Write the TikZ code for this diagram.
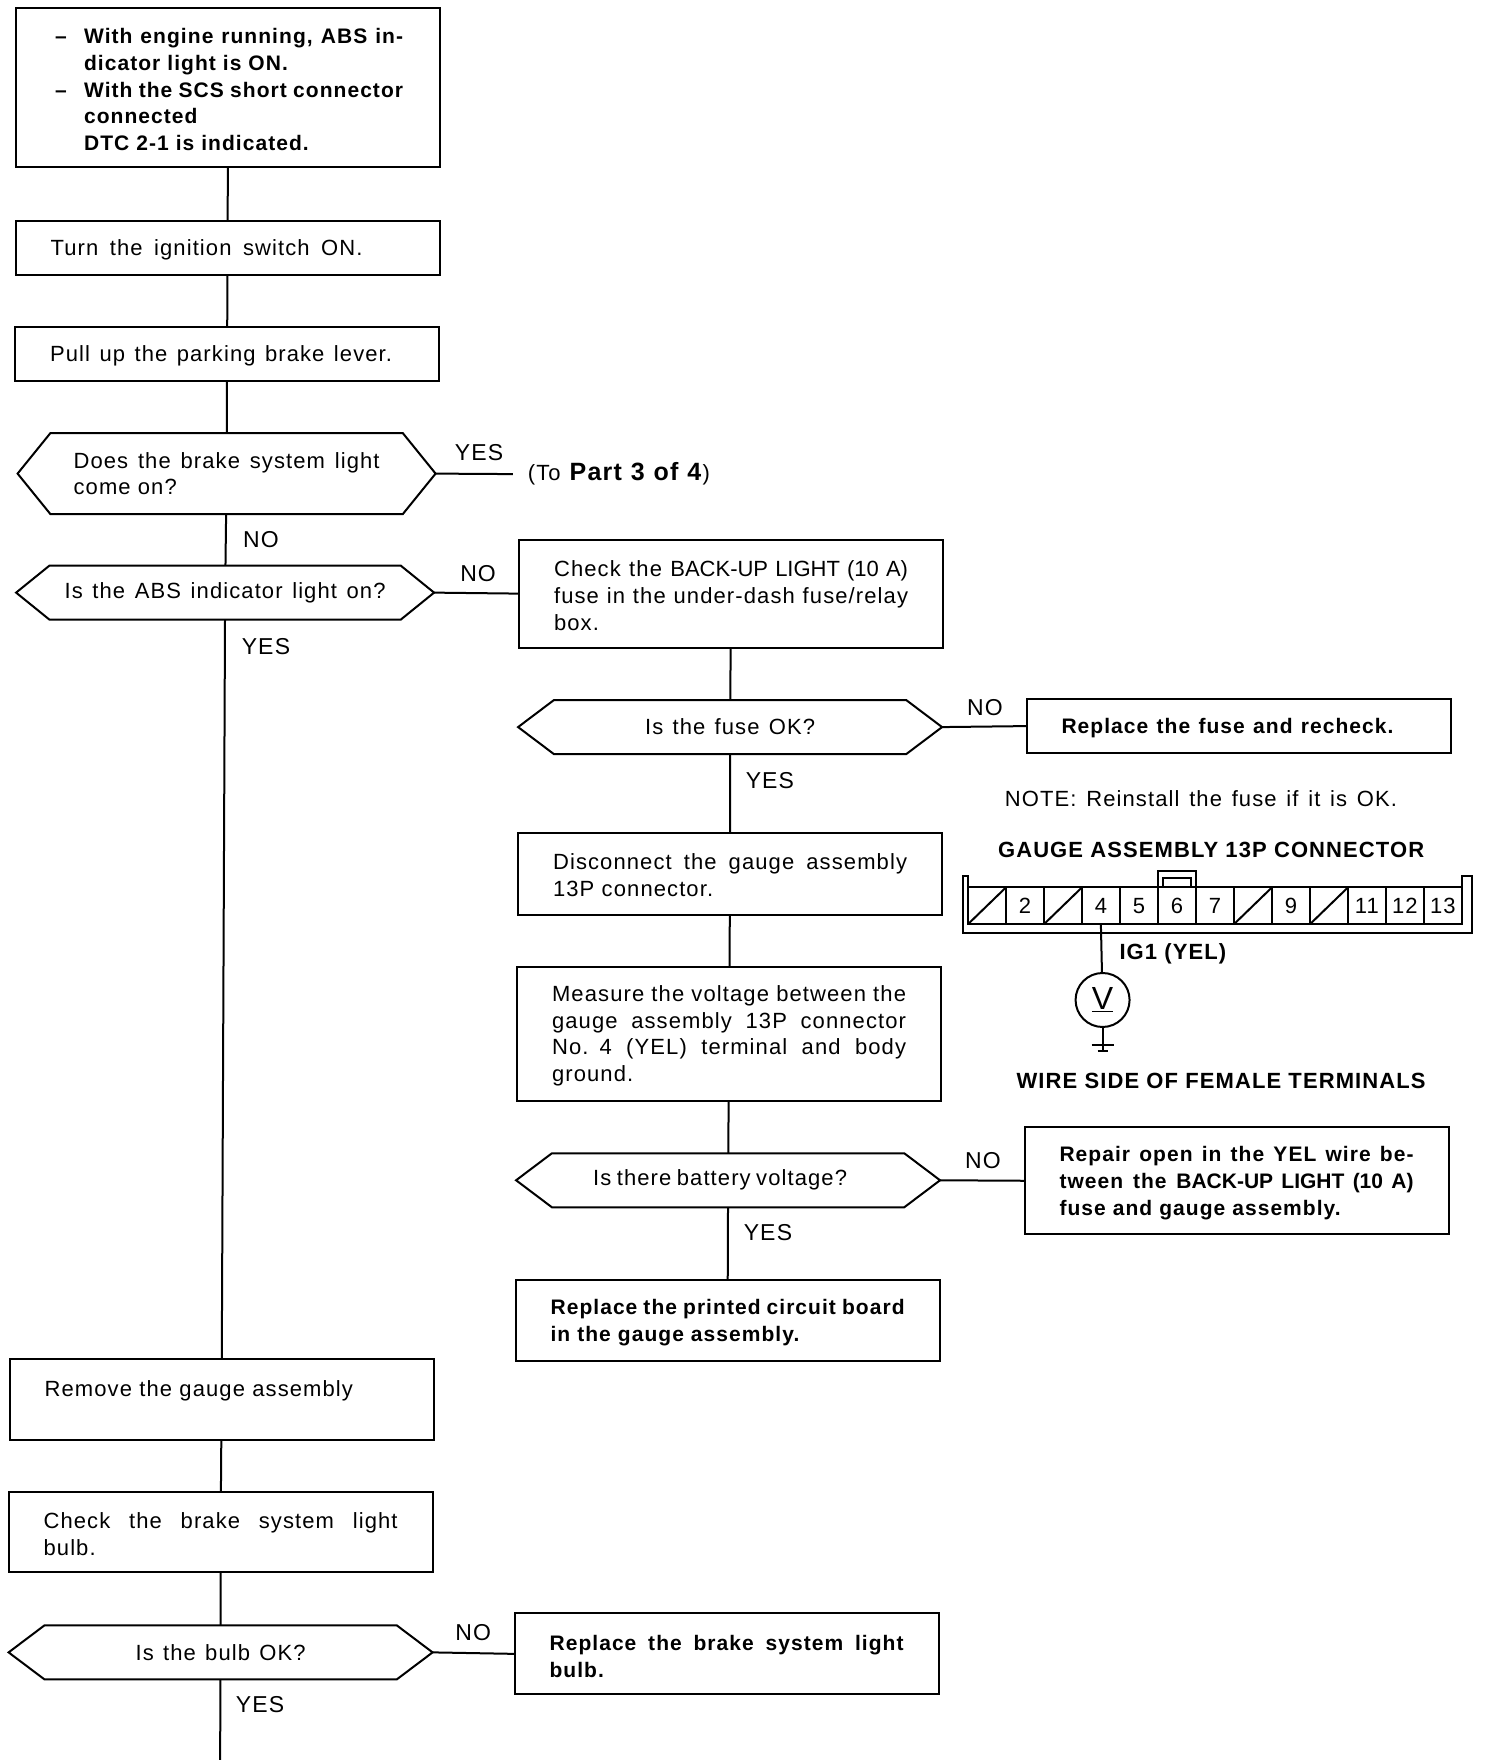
\documentclass[tikz,border=0pt]{standalone}
\usepackage{fontspec}
\setmainfont[LetterSpace=5]{Liberation Sans}
\usetikzlibrary{shapes.symbols,positioning}
\newcommand{\fitline}[2]{\makebox[#1][s]{\spaceskip=0pt #2}}
\newcommand{\fl}[1]{\fitline{177pt}{#1}}
\newcommand{\tight}[1]{{\addfontfeature{LetterSpace=0}#1}}

\begin{document}
\begin{tikzpicture}[
	x=0.498pt,y=-0.498pt,
	line width=1pt,
	every node/.style={font=\fontsize{11}{13.4}\selectfont},
	stepbox/.style={
		draw,
		rectangle,
		outer sep=0pt,
		inner xsep=17.5pt,
		inner ysep=0pt,
		text width=177pt,
		align=left,
		minimum width=212pt,
		minimum height=27pt,
		execute at begin node=\rule{0pt}{10pt}
	},
	askbox/.style={
		draw,
		signal,
		signal to=west and east,
		signal pointer angle=74,
		outer sep=0pt,
		inner sep=0pt,
		align=center,
		minimum width=212pt,
		minimum height=27pt
	},
	heavy/.style={
		font=\fontsize{10.5}{13.4}\selectfont\bfseries
	},
	lab/.style={
		inner sep=0pt,
		font=\fontsize{11.5}{14}\selectfont
	},
	title/.style={
		inner sep=0pt,
		font=\fontsize{11}{13}\selectfont\bfseries
	},
	term/.style={
		draw,
		rectangle,
		outer sep=0pt,
		inner sep=0pt,
		minimum width=19pt,
		minimum height=18.4pt
	}
	]
	\useasboundingbox (0pt,0pt) rectangle (744pt,-880pt);
	
	\node[stepbox,heavy,minimum height=79.5pt] at (229,87.5)
	(abson) {\hspace*{2pt}\makebox[14.5pt][l]{--}\fitline{159.5pt}{With engine running, ABS in-}\\
		\hspace*{16.5pt}dicator light is ON.\\
		\hspace*{2pt}\makebox[14.5pt][l]{--}\fitline{159.5pt}{With the SCS short connector}\\
		\hspace*{16.5pt}connected\\
		\hspace*{16.5pt}DTC 2-1 is indicated.};
	\node[stepbox] at (228.5,248.5)
	(ignition) {\fitline{156pt}{Turn the ignition switch ON.}};
	\node[stepbox] at (228,355)
	(lever) {\fitline{171pt}{Pull up the parking brake lever.}};
	\node[askbox,signal pointer angle=102,minimum width=209pt,minimum height=40.5pt] at (227.5,475.5)
	(brakelight) {\parbox{153pt}{\fitline{153pt}{Does the brake system light}\\come on?}};
	\node[askbox,signal pointer angle=78,minimum width=209pt] at (226,595)
	(abslight) {\fitline{160.5pt}{Is the ABS indicator light on?}};
	\node[stepbox,minimum height=54pt] at (734,596)
	(checkfuse) {\fl{Check the \tight{BACK-UP LIGHT (10 A)}}\\
		\fl{fuse in the under-dash fuse/relay}\\
		box.};
	\node[askbox] at (733,730)
	(fuseok) {\fitline{85pt}{Is the fuse OK?}};
	\node[stepbox,heavy] at (1243.5,729)
	(newfuse) {\fitline{166pt}{Replace the fuse and recheck.}};
	\node[stepbox,minimum height=41pt] at (733,877)
	(disconnect) {\fl{Disconnect the gauge assembly}\\
		13P connector.};
	\node[stepbox,minimum height=67pt] at (732,1038)
	(measure) {\fl{Measure the voltage between the}\\
		\fl{gauge assembly 13P connector}\\
		\fl{No. 4 (YEL) terminal and body}\\
		ground.};
	\node[askbox] at (731,1185)
	(battery) {\fitline{127pt}{Is there battery voltage?}\hspace*{8pt}};
	\node[stepbox,heavy,minimum height=53.5pt] at (1241.5,1185.5)
	(repair) {\fl{Repair open in the YEL wire be-}\\
		\fl{tween the \tight{BACK-UP LIGHT (10 A)}}\\
		fuse and gauge assembly.};
	\node[stepbox,heavy,minimum height=40.5pt] at (730.5,1325.5)
	(board) {\fl{Replace the printed circuit board}\\
		in the gauge assembly.};
	\node[stepbox,minimum height=40.5pt] at (222.5,1405.5)
	(remove) {Remove the gauge assembly\\~};
	\node[stepbox,minimum height=40pt] at (221.5,1538)
	(checkbulb) {\fl{Check the brake system light}\\
		bulb.};
	\node[askbox] at (221.5,1659)
	(bulbok) {\fitline{85pt}{Is the bulb OK?}};
	\node[stepbox,heavy,minimum height=40.5pt] at (729.5,1660.5)
	(newbulb) {\fl{Replace the brake system light}\\
		bulb.};
	
	\node[inner xsep=7pt,inner ysep=0pt,anchor=west] at (515,476)
	(topart) {\fitline{91pt}{(To \textbf{\fontsize{12.5}{14}\selectfont Part 3 of 4})}};
	\coordinate (bulbnext) at (221,1767);
	
	\draw (abson) -- (ignition);
	\draw (ignition) -- (lever);
	\draw (lever) -- (brakelight);
	\draw (brakelight) -- (abslight);
	\draw (abslight) -- (remove);
	\draw (remove) -- (checkbulb);
	\draw (checkbulb) -- (bulbok);
	\draw (bulbok) -- (bulbnext);
	\draw (brakelight.east) -- (topart.west);
	\draw (abslight.east) -- (checkfuse.west);
	\draw (checkfuse) -- (fuseok);
	\draw (fuseok) -- (disconnect);
	\draw (disconnect) -- (measure);
	\draw (measure) -- (battery);
	\draw (battery) -- (board);
	\draw (fuseok.east) -- (newfuse.west);
	\draw (battery.east) -- (repair.west);
	\draw (bulbok.east) -- (newbulb.west);
	
	\node[lab] at (481,454) (yesbrake) {YES};
	\node[lab] at (262,542) (nobrake) {NO};
	\node[lab] at (480,576) (noabs) {NO};
	\node[lab] at (267,649) (yesabs) {YES};
	\node[lab] at (989,710) (nofuse) {NO};
	\node[lab] at (773,784) (yesfuse) {YES};
	\node[lab] at (987,1165) (nobattery) {NO};
	\node[lab] at (771,1238) (yesbattery) {YES};
	\node[lab] at (475,1639) (nobulb) {NO};
	\node[lab] at (261,1711) (yesbulb) {YES};
	
	\node[anchor=west,inner sep=0pt] at (1008,802) (note) {\fitline{196pt}{NOTE: Reinstall the fuse if it is OK.}};
	\node[title] at (1216,853) (gaugetitle) {GAUGE ASSEMBLY 13P CONNECTOR};
	\node[title] at (1226,1085) (wiretitle) {WIRE SIDE OF FEMALE TERMINALS};
	
	\foreach \n/\pin in {1/,2/2,3/,4/4,5/5,6/6,7/7,8/,9/9,10/,11/11,12/12,13/13}
		\node[term] at (952.7+38.15*\n,909.5) (t\n) {\pin};
	\foreach \n in {1,3,8,10}
		\draw (t\n.south west) -- (t\n.north east);
	
	\draw (972,928) -- (972,880) -- (967,880) -- (967,937) -- (1478,937) -- (1478,880) -- (1468,880) -- (1468,928);
	\draw (t6.north west) -- ++(0,-17) -| (t6.north east);
	\draw ([xshift=2.5pt]t6.north west) -- ++(0,-10) -| ([xshift=-2.5pt]t6.north east);
	
	\node[circle,draw,outer sep=0pt,inner sep=0pt,minimum size=27pt,font=\fontsize{16}{17}\selectfont] at (1107,1004)
	(meter) {\underline{V}};
	\node[lab,anchor=west,font=\fontsize{11}{13}\selectfont\bfseries] at (1123,958) (ignone) {IG1 (YEL)};
	\coordinate (ground) at (1107,1055);
	\draw (t4.south) -- (meter);
	\draw (meter) -- (ground);
	\draw (1096,1049) -- (1118,1049);
	\draw (1102,1055) -- (1112,1055);
\end{tikzpicture}
\end{document}
